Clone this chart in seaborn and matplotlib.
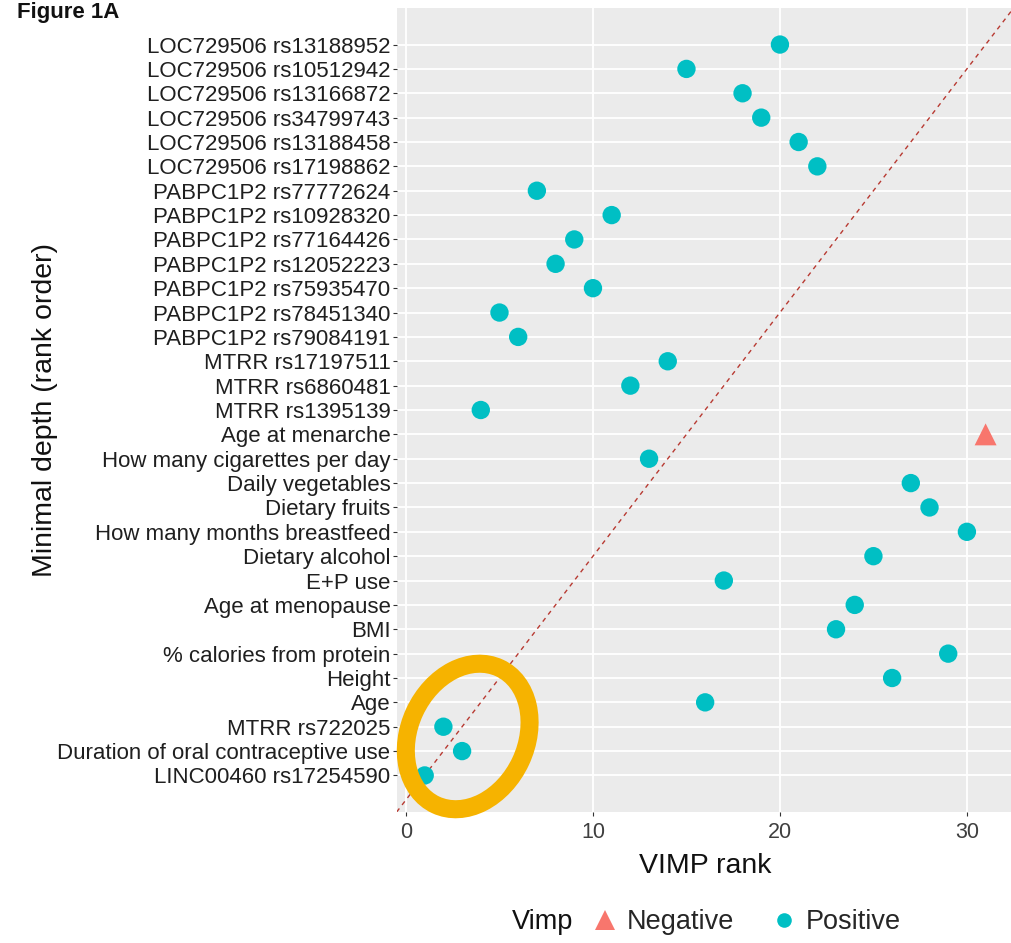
import matplotlib
matplotlib.use("Agg")
import matplotlib.pyplot as plt
import matplotlib.transforms as mtransforms
from matplotlib.patches import Ellipse
from matplotlib.lines import Line2D
import numpy as np
import pandas as pd
import seaborn as sns

# Variables listed from the top row (deepest minimal-depth rank) to the bottom row
variables = [
    "LOC729506 rs13188952", "LOC729506 rs10512942", "LOC729506 rs13166872",
    "LOC729506 rs34799743", "LOC729506 rs13188458", "LOC729506 rs17198862",
    "PABPC1P2 rs77772624", "PABPC1P2 rs10928320", "PABPC1P2 rs77164426",
    "PABPC1P2 rs12052223", "PABPC1P2 rs75935470", "PABPC1P2 rs78451340",
    "PABPC1P2 rs79084191", "MTRR rs17197511", "MTRR rs6860481",
    "MTRR rs1395139", "Age at menarche", "How many cigarettes per day",
    "Daily vegetables", "Dietary fruits", "How many months breastfeed",
    "Dietary alcohol", "E+P use", "Age at menopause", "BMI",
    "% calories from protein", "Height", "Age", "MTRR rs722025",
    "Duration of oral contraceptive use", "LINC00460 rs17254590",
]
depth_rank = [31, 30, 29, 28, 27, 26, 25, 24, 23, 22, 21, 20, 19, 18, 17, 16,
              15, 14, 13, 12, 11, 10, 9, 8, 7, 6, 5, 4, 3, 2, 1]
vimp_rank = [20, 15, 18, 19, 21, 22, 7, 11, 9, 8, 10, 5, 6, 14, 12, 4,
             31, 13, 27, 28, 30, 25, 17, 24, 23, 29, 26, 16, 2, 3, 1]
vimp_sign = ["Positive"] * 16 + ["Negative"] + ["Positive"] * 14
x_ticks = [0, 10, 20, 30]

df = pd.DataFrame({"variable": variables, "depth": depth_rank,
                   "vimp_rank": vimp_rank, "Vimp": vimp_sign})

W, H, DPI = 1011, 943, 100
sns.set_theme(style="darkgrid", rc={
    "axes.facecolor": "#EBEBEB",
    "grid.color": "white",
    "grid.linewidth": 1.3,
})
plt.rcParams["font.family"] = ["Liberation Sans", "DejaVu Sans"]

fig = plt.figure(figsize=(W / DPI, H / DPI), dpi=DPI)
fig.patch.set_facecolor("white")
ax = fig.add_axes([396.65 / W, 131 / H, 617 / W, 804 / H])

palette = {"Negative": "#F8766D", "Positive": "#00BFC4"}
markers = {"Negative": "^", "Positive": "o"}

ax.axline((0, 0), slope=1, color="#b83a32", lw=1.0, ls=(0, (3.2, 3.2)), zorder=2)

sns.scatterplot(data=df, x="vimp_rank", y="depth", hue="Vimp", style="Vimp",
                size="Vimp", sizes={"Negative": 250, "Positive": 175},
                palette=palette, markers=markers, linewidth=0,
                legend=False, ax=ax, zorder=3)

ax.set_xlim(-0.5, 32.5)
ax.set_ylim(-0.5, 32.5)
ax.set_xticks(x_ticks)
ax.set_yticks(depth_rank)
ax.set_yticklabels(variables)
ax.grid(True, which="major", color="white", lw=1.3)
for s in ax.spines.values():
    s.set_visible(False)

ax.tick_params(axis="y", which="major", left=True, length=3, width=0.8,
               color="#333333", pad=1.5, labelsize=16.0, labelcolor="#1f1f1f")
ax.tick_params(axis="x", which="major", bottom=True, length=3, width=0.8,
               color="#333333", pad=4.5, labelsize=15.5, labelcolor="#3f3f3f")

ax.set_xlabel("VIMP rank", fontsize=20.5, color="#111111")
ax.set_ylabel("Minimal depth (rank order)", fontsize=20.5, color="#111111")
ax.xaxis.set_label_coords(0.5, (77 - 131) / 804)
ax.xaxis.label.set_va("center")
ax.yaxis.set_label_coords((45 - 396.65) / 617, 0.5)
ax.yaxis.label.set_va("center")

# Highlight ring around the top-ranked variables in both measures
ring_trans = fig.dpi_scale_trans + mtransforms.ScaledTranslation(3.3, 2.6, ax.transData)
ring = Ellipse((0, 0), width=1.17, height=1.51, angle=-25, transform=ring_trans,
               fill=False, edgecolor="#F6B300", lw=13, clip_on=False, zorder=4)
ax.add_artist(ring)

# Legend along the bottom
fig.text(512 / W, 1 - 922 / H, "Vimp", fontsize=19.5, va="center", ha="left",
         color="#111111")
handles = [
    Line2D([], [], marker="^", ls="none", color=palette["Negative"], markersize=14,
           markeredgewidth=0),
    Line2D([], [], marker="o", ls="none", color=palette["Positive"], markersize=10.5,
           markeredgewidth=0),
]
fig.legend(handles, ["Negative", "Positive"], ncol=2, loc="center left",
           bbox_to_anchor=(591.5 / W, 1 - 922 / H), frameon=False,
           fontsize=19.5, handlelength=1.0, handletextpad=0.31,
           columnspacing=1.32, borderpad=0, borderaxespad=0)

fig.text(17 / W, 1 - 18 / H, "Figure 1A", fontsize=16, fontweight="bold",
         va="baseline", ha="left", color="#111111")

fig.savefig("out.png", dpi=DPI, facecolor="white")
